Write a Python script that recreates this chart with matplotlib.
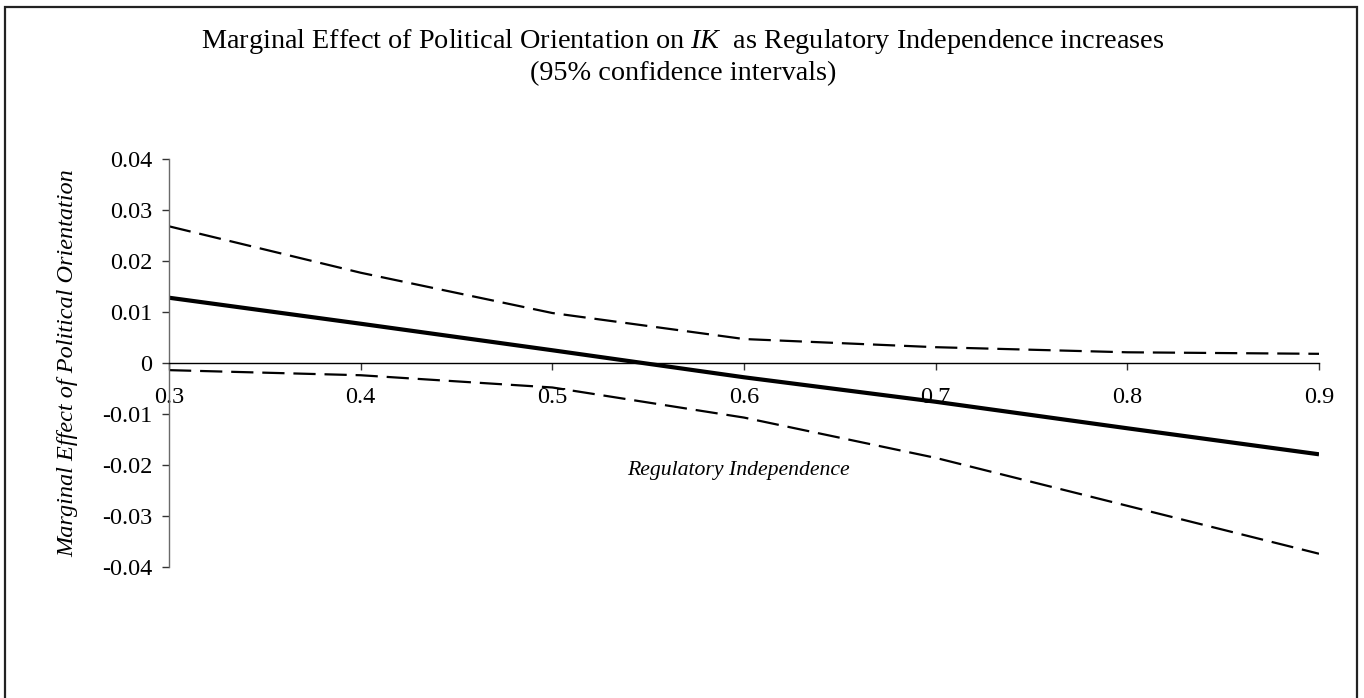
import matplotlib
matplotlib.use("Agg")
import matplotlib.pyplot as plt
from matplotlib.patches import Rectangle

# Regulatory independence levels and marginal effects
reg_independence = [0.3, 0.4, 0.5, 0.6, 0.7, 0.8, 0.9]
marginal_effect = [0.0128, 0.0077, 0.0025, -0.0028, -0.0076, -0.0128, -0.0179]
upper_ci = [0.0268, 0.0177, 0.0098, 0.0047, 0.0031, 0.0021, 0.0018]
lower_ci = [-0.0014, -0.0024, -0.0048, -0.0107, -0.0186, -0.0280, -0.0374]

x_ticks = [0.3, 0.4, 0.5, 0.6, 0.7, 0.8, 0.9]
y_ticks = [-0.04, -0.03, -0.02, -0.01, 0, 0.01, 0.02, 0.03, 0.04]
y_tick_labels = ["-0.04", "-0.03", "-0.02", "-0.01", "0", "0.01", "0.02", "0.03", "0.04"]

plt.rcParams["font.family"] = ["Liberation Serif", "DejaVu Serif"]
plt.rcParams["mathtext.fontset"] = "custom"
plt.rcParams["mathtext.it"] = "Liberation Serif:italic"
plt.rcParams["mathtext.rm"] = "Liberation Serif"

fig = plt.figure(figsize=(13.64, 6.98), dpi=100)
fig.patch.set_facecolor("white")

W, H = 1364, 698
ax = fig.add_axes([169 / W, 1 - 567 / H, (1319 - 169) / W, (567 - 159) / H])

ax.plot(reg_independence, upper_ci, color="black", lw=1.6, dashes=(10, 4))
ax.plot(reg_independence, lower_ci, color="black", lw=1.6, dashes=(10, 4))
ax.plot(reg_independence, marginal_effect, color="black", lw=3.0,
        solid_capstyle="butt")

ax.set_xlim(0.3, 0.9)
ax.set_ylim(-0.04, 0.04)

ax.spines["top"].set_visible(False)
ax.spines["right"].set_visible(False)
ax.spines["bottom"].set_position(("data", 0))
ax.spines["bottom"].set_color("black")
ax.spines["bottom"].set_linewidth(1.0)
ax.spines["left"].set_color("#6a6a6a")
ax.spines["left"].set_linewidth(1.0)

ax.set_xticks(x_ticks)
ax.set_xticklabels([f"{v:.1f}" for v in x_ticks])
ax.set_yticks(y_ticks)
ax.set_yticklabels(y_tick_labels)

ax.tick_params(axis="x", direction="out", length=5, width=1.0, color="#333333",
               pad=12.5, labelsize=17.5)
ax.tick_params(axis="y", direction="out", length=5, width=1.0, color="#333333",
               pad=7, labelsize=17.5)

fig.text(683 / W, 1 - 42 / H,
         r"Marginal Effect of Political Orientation on $IK$  as Regulatory Independence increases",
         ha="center", va="center", fontsize=20.3)
fig.text(683 / W, 1 - 74 / H, "(95% confidence intervals)",
         ha="center", va="center", fontsize=20.3)

fig.text(738 / W, 1 - 470 / H, "Regulatory Independence",
         ha="center", va="center", fontsize=15.7, style="italic")
fig.text(68 / W, 1 - 363 / H, "Marginal Effect of Political Orientation",
         ha="center", va="center", fontsize=17.5, style="italic", rotation=90)

# Chart-area frame (open at the bottom edge of the canvas)
frame = Rectangle((4.5 / W, -0.02), (1357 - 4.5) / W, 1 - 6.5 / H + 0.02,
                  transform=fig.transFigure, fill=False, edgecolor="#222222",
                  lw=1.6, clip_on=False)
fig.patches.append(frame)

fig.savefig("out.png", dpi=100, facecolor="white")
